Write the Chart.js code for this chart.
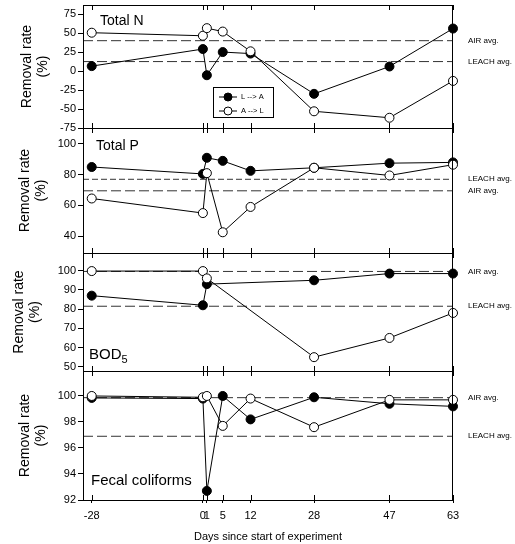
<!DOCTYPE html>
<html>
<head>
<meta charset="utf-8">
<script src="https://cdn.jsdelivr.net/npm/chart.js@4.4.0/dist/chart.umd.min.js"></script>
<style>
  body { margin: 0; background: #fff; }
  #wrap { position: relative; width: 515px; height: 544px; overflow: hidden; }
  #wrap canvas { position: absolute; left: 0; }
</style>
</head>
<body>
<div id="wrap">
  <canvas id="chart-n" width="515" height="140" style="top:0px"></canvas>
  <canvas id="chart-p" width="515" height="137" style="top:126px"></canvas>
  <canvas id="chart-bod" width="515" height="130" style="top:251px"></canvas>
  <canvas id="chart-fc" width="515" height="175" style="top:369px"></canvas>
</div>
<script>
// days of sampling
const days = [-28, 0, 1, 5, 12, 28, 47, 63];
const bodDays = [-28, 0, 1, 28, 47, 63];
const dayTicks = [-28, 0, 1, 5, 12, 28, 47, 63];

// Total N
const nLA = [6.5, 29, -5.5, 25, 23, -30, 6, 56];
const nAL = [50.5, 46.5, 56.5, 52, 26, -53, -61.5, -13];
const nAvg = { air: 40, leach: 12.5 };
const nTicks = [-75, -50, -25, 0, 25, 50, 75];

// Total P
const pLA = [85, 80.5, 91, 89, 82.5, 84.5, 87.5, 88];
const pAL = [64.5, 55, 81, 42.5, 59, 84.5, 79.5, 86.5];
const pAvg = { air: 69.5, leach: 77 };
const pTicks = [40, 60, 80, 100];

// BOD5
const bodLA = [87, 82, 93, 95, 98.5, 98.5];
const bodAL = [99.8, 99.8, 96, 55, 65, 78];
const bodAvg = { air: 99.6, leach: 81.5 };
const bodTicks = [50, 60, 70, 80, 90, 100];

// Fecal coliforms
const fcLA = [99.85, 99.8, 92.7, 100, 98.2, 99.9, 99.4, 99.2];
const fcAL = [100, 99.9, 100, 97.7, 99.8, 97.6, 99.7, 99.7];
const fcAvg = { air: 99.87, leach: 96.9 };
const fcTicks = [92, 94, 96, 98, 100];

const X_MIN = -30.2, X_MAX = 63;
const FONT = "'Liberation Sans', Arial, Helvetica, sans-serif";
Chart.defaults.font.family = FONT;
Chart.defaults.color = '#000';

function pts(xs, ys) {
  return xs.map((x, i) => ({ x: x, y: ys[i] }));
}

function avgLine(v, dash) {
  return {
    data: [{ x: X_MIN, y: v }, { x: X_MAX, y: v }],
    borderColor: '#333',
    borderWidth: 1,
    borderDash: dash,
    pointRadius: 0,
    clip: false
  };
}

// draws the box, inner ticks, panel name, y title, avg labels and legend
const panelDeco = {
  id: 'deco',
  afterDraw(chart, args, o) {
    const ctx = chart.ctx;
    const a = chart.chartArea;
    const xs = chart.scales.x;
    const ys = chart.scales.y;
    ctx.save();
    ctx.strokeStyle = '#000';
    ctx.lineWidth = 1;
    ctx.strokeRect(a.left + 0.5, a.top + 0.5, a.right - a.left - 1, a.bottom - a.top);

    ctx.beginPath();
    dayTicks.forEach(d => {
      const px = Math.round(xs.getPixelForValue(d)) + 0.5;
      ctx.moveTo(px, a.top);
      ctx.lineTo(px, a.top + 5);
      ctx.moveTo(px, a.bottom - 5);
      ctx.lineTo(px, a.bottom);
    });
    ctx.stroke();

    // panel name
    ctx.fillStyle = '#000';
    ctx.textBaseline = 'alphabetic';
    ctx.textAlign = 'left';
    ctx.font = o.nameSize + 'px ' + FONT;
    ctx.fillText(o.name, o.nameX, o.nameY);
    if (o.sub) {
      const w = ctx.measureText(o.name).width;
      ctx.font = '11px ' + FONT;
      ctx.fillText(o.sub, o.nameX + w, o.nameY + 4);
    }

    // y title
    const cy = (a.top + a.bottom) / 2;
    ctx.font = '14px ' + FONT;
    ctx.textAlign = 'center';
    ctx.textBaseline = 'middle';
    ctx.save();
    ctx.translate(o.titleX, cy);
    ctx.rotate(-Math.PI / 2);
    ctx.fillText('Removal rate', 0, 0);
    ctx.fillText('(%)', 0, 16);
    ctx.restore();

    // avg labels on the right
    ctx.font = '8px ' + FONT;
    ctx.textAlign = 'left';
    o.labels.forEach(l => {
      ctx.fillText(l.text, 468, ys.getPixelForValue(l.value));
    });

    if (o.legend) {
      const L = 213, T = 87;
      ctx.strokeRect(L + 0.5, T + 0.5, 60, 30);
      [[97, '#000', 'L --> A'], [111, '#fff', 'A --> L']].forEach(r => {
        ctx.beginPath();
        ctx.moveTo(219, r[0]);
        ctx.lineTo(237, r[0]);
        ctx.stroke();
        ctx.beginPath();
        ctx.arc(228, r[0], 4, 0, Math.PI * 2);
        ctx.fillStyle = r[1];
        ctx.fill();
        ctx.stroke();
        ctx.fillStyle = '#000';
        ctx.font = '7.5px ' + FONT;
        ctx.fillText(r[2], 241, r[0]);
      });
    }
    ctx.restore();
  }
};

function makePanel(id, cfg) {
  const datasets = [
    {
      data: pts(cfg.x, cfg.open),
      borderColor: '#000',
      borderWidth: 1,
      pointRadius: 4.5,
      pointBackgroundColor: '#fff',
      pointBorderColor: '#000',
      pointBorderWidth: 1,
      clip: false
    },
    {
      data: pts(cfg.x, cfg.filled),
      borderColor: '#000',
      borderWidth: 1,
      pointRadius: 4.5,
      pointBackgroundColor: '#000',
      pointBorderColor: '#000',
      pointBorderWidth: 1,
      clip: false
    },
    avgLine(cfg.avg.air, cfg.airDash || [10, 4]),
    avgLine(cfg.avg.leach, cfg.leachDash || [10, 4])
  ];
  return new Chart(document.getElementById(id), {
    type: 'line',
    data: { datasets: datasets },
    options: {
      responsive: false,
      animation: false,
      layout: {
        autoPadding: false,
        padding: { top: cfg.padTop, bottom: cfg.padBottom, left: 0, right: 62 }
      },
      scales: {
        x: {
          type: 'linear',
          min: X_MIN,
          max: X_MAX,
          display: cfg.showX,
          afterBuildTicks: s => { s.ticks = dayTicks.map(v => ({ value: v })); },
          afterFit: s => {
            s.height = cfg.showX ? 44 : 0;
            s.paddingLeft = 0;
            s.paddingRight = 0;
          },
          ticks: {
            autoSkip: false,
            maxRotation: 0,
            padding: 6,
            font: { size: 11 },
            color: '#000',
            callback: v => String(v)
          },
          grid: { drawOnChartArea: false, tickLength: 3, color: '#000' },
          border: { color: '#000' },
          title: {
            display: true,
            text: 'Days since start of experiment',
            font: { size: 11 },
            color: '#000',
            padding: { top: 0, bottom: 0 }
          }
        },
        y: {
          type: 'linear',
          min: cfg.yMin,
          max: cfg.yMax,
          afterBuildTicks: s => { s.ticks = cfg.yTicks.map(v => ({ value: v })); },
          afterFit: s => {
            s.width = 83;
            s.paddingTop = 0;
            s.paddingBottom = 0;
          },
          ticks: { padding: 2, font: { size: 11 }, color: '#000', callback: v => String(v) },
          grid: { drawOnChartArea: false, tickLength: 5, color: '#000' },
          border: { color: '#000' }
        }
      },
      plugins: {
        legend: { display: false },
        tooltip: { enabled: false },
        deco: cfg.deco
      }
    },
    plugins: [panelDeco]
  });
}

makePanel('chart-n', {
  x: days, filled: nLA, open: nAL, avg: nAvg,
  yMin: -75, yMax: 87, yTicks: nTicks,
  padTop: 5, padBottom: 12, showX: false,
  deco: {
    name: 'Total N', nameSize: 14, nameX: 100, nameY: 25, titleX: 27, legend: true,
    labels: [{ text: 'AIR avg.', value: nAvg.air }, { text: 'LEACH avg.', value: nAvg.leach }]
  }
});

makePanel('chart-p', {
  x: days, filled: pLA, open: pAL, avg: pAvg,
  yMin: 29, yMax: 110.4, yTicks: pTicks,
  padTop: 2, padBottom: 10, showX: false,
  leachDash: [6, 3],
  deco: {
    name: 'Total P', nameSize: 14, nameX: 96, nameY: 150 - 126, titleX: 25,
    labels: [{ text: 'LEACH avg.', value: pAvg.leach }, { text: 'AIR avg.', value: pAvg.air }]
  }
});

makePanel('chart-bod', {
  x: bodDays, filled: bodLA, open: bodAL, avg: bodAvg,
  yMin: 47.8, yMax: 109.2, yTicks: bodTicks,
  padTop: 2, padBottom: 10, showX: false,
  deco: {
    name: 'BOD', sub: '5', nameSize: 15, nameX: 89, nameY: 359 - 251, titleX: 19,
    labels: [{ text: 'AIR avg.', value: bodAvg.air }, { text: 'LEACH avg.', value: bodAvg.leach }]
  }
});

makePanel('chart-fc', {
  x: days, filled: fcLA, open: fcAL, avg: fcAvg,
  yMin: 92, yMax: 101.92, yTicks: fcTicks,
  padTop: 2, padBottom: 0, showX: true,
  deco: {
    name: 'Fecal coliforms', nameSize: 15, nameX: 91, nameY: 485 - 369, titleX: 25,
    labels: [{ text: 'AIR avg.', value: fcAvg.air }, { text: 'LEACH avg.', value: fcAvg.leach }]
  }
});
</script>
</body>
</html>
